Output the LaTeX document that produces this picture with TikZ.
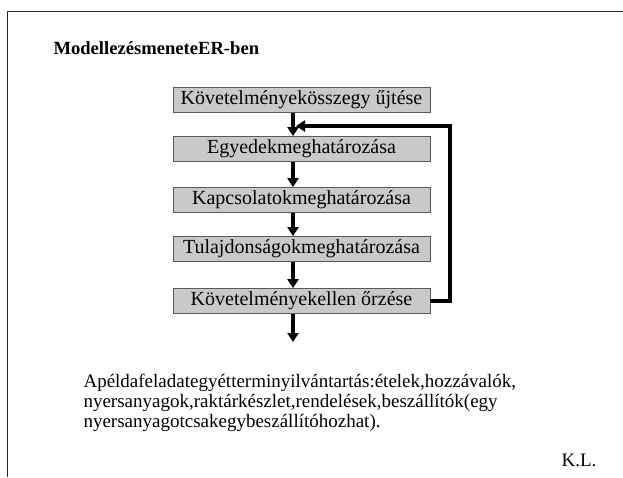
\documentclass[tikz,border=0pt]{standalone}
\usepackage{fontspec}
\setmainfont{Liberation Serif}
\usetikzlibrary{arrows.meta}

\tikzset{
  stepbox/.style={draw=black!65, line width=0.8pt, fill=black!21,
    minimum width=257pt, minimum height=25pt, inner sep=0pt,
    font=\fontsize{20}{24}\selectfont},
  flow/.style={line width=3.2pt, -{Triangle[width=11pt,length=9pt]}},
  frame/.style={line width=1.3pt, black!85}
}

\begin{document}
\begin{tikzpicture}[x=1pt,y=-1pt]
  \useasboundingbox (0,0) rectangle (623,477);

  % slide frame (top and left edges)
  \draw[frame] (623,11.5) -- (7.5,11.5) -- (7.5,477);

  % heading
  \node[anchor=base west, font=\bfseries\fontsize{18.6}{22}\selectfont]
    (title) at (50,54) {ModellezésmeneteER-ben};

  % process steps
  \node[stepbox] (b1) at (301.5,100) {Követelményekösszegy űjtése};
  \node[stepbox] (b2) at (301.5,149) {Egyedekmeghatározása};
  \node[stepbox] (b3) at (301.5,200) {Kapcsolatokmeghatározása};
  \node[stepbox] (b4) at (301.5,249) {Tulajdonságokmeghatározása};
  \node[stepbox] (b5) at (301.5,301) {Követelményekellen őrzése};

  % downward flow
  \draw[flow] ([xshift=-8.5pt]b1.south) -- ([xshift=-8.5pt]b2.north);
  \draw[flow] ([xshift=-8.5pt]b2.south) -- ([xshift=-8.5pt]b3.north);
  \draw[flow] ([xshift=-8.5pt]b3.south) -- ([xshift=-8.5pt]b4.north);
  \draw[flow] ([xshift=-8.5pt]b4.south) -- ([xshift=-8.5pt]b5.north);
  \coordinate (out) at (293,342);
  \draw[flow] ([xshift=-8.5pt]b5.south) -- (out);

  % feedback loop back to the first step
  \coordinate (fbcorner) at (450,126);
  \coordinate (fbtip) at (296,126);
  \draw[flow] (b5.east) -| (fbcorner) -- (fbtip);

  % description (anchored at the baseline of its last line)
  \node[anchor=base west, align=left, font=\fontsize{19}{20}\selectfont]
    (desc) at (80,427)
    {Apéldafeladategyétterminyilvántartás:ételek,hozzávalók,\\
     nyersanyagok,raktárkészlet,rendelések,beszállítók(egy\\
     nyersanyagotcsakegybeszállítóhozhat).};

  \node[anchor=base east, font=\fontsize{19}{22}\selectfont]
    (author) at (600,466) {K.L.};
\end{tikzpicture}
\end{document}
